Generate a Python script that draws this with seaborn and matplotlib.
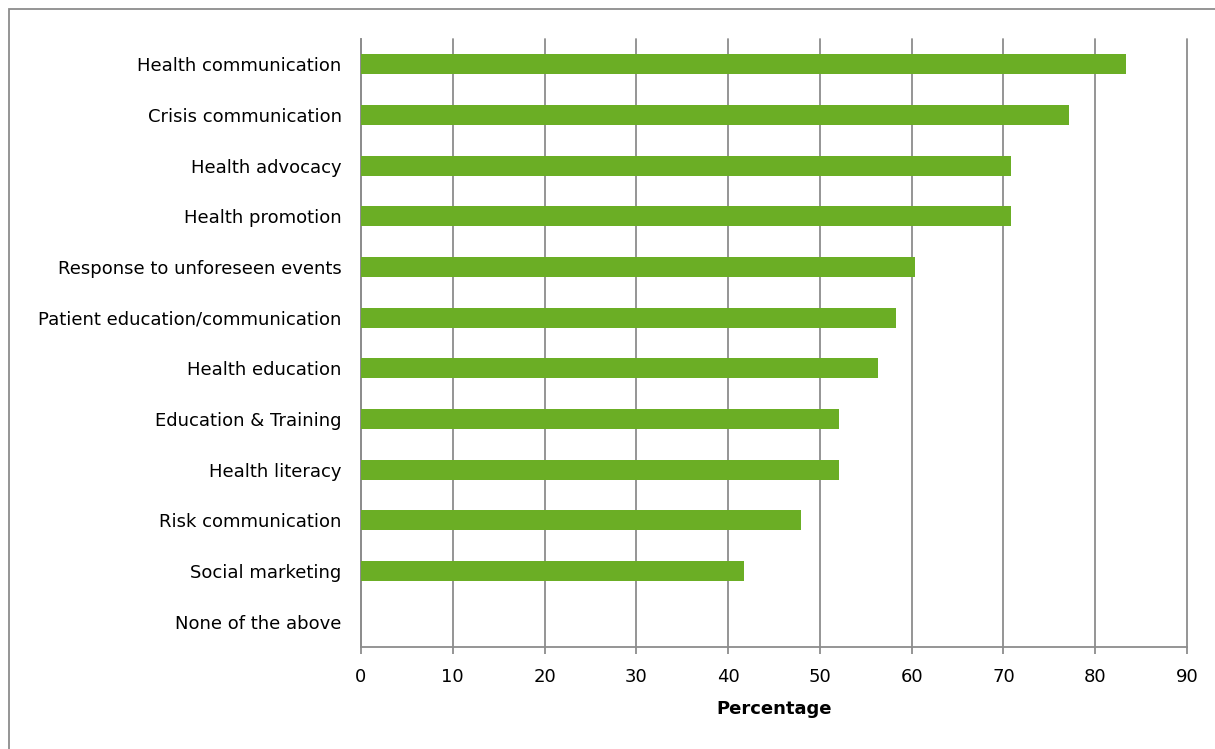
import matplotlib
matplotlib.use("Agg")
import matplotlib.pyplot as plt
import seaborn as sns
import pandas as pd
from matplotlib.patches import Rectangle

categories = [
    "Health communication",
    "Crisis communication",
    "Health advocacy",
    "Health promotion",
    "Response to unforeseen events",
    "Patient education/communication",
    "Health education",
    "Education & Training",
    "Health literacy",
    "Risk communication",
    "Social marketing",
    "None of the above",
]
percentages = [83.3, 77.1, 70.8, 70.8, 60.4, 58.3, 56.3, 52.1, 52.1, 47.9, 41.7, 0.0]
x_ticks = [0, 10, 20, 30, 40, 50, 60, 70, 80, 90]

sns.set_theme(style="white")
plt.rcParams["font.family"] = ["DejaVu Sans Condensed", "DejaVu Sans"]

df = pd.DataFrame({"Category": categories, "Percentage": percentages})

fig = plt.figure(figsize=(12.15, 7.49), dpi=100)
ax = fig.add_axes([361 / 1215, 1 - 647 / 749, (1187 - 361) / 1215, (647 - 39) / 749])

sns.barplot(data=df, x="Percentage", y="Category", order=categories,
            color="#6BAE25", saturation=1, width=0.39, linewidth=0,
            ax=ax, zorder=3)

grid_col = "#8C8C8C"
ax.set_xlim(0, 90)
ax.set_ylim(len(categories) - 0.5, -0.5)
ax.set_xticks(x_ticks)
ax.set_xticklabels([str(t) for t in x_ticks])
ax.xaxis.grid(True, color=grid_col, linewidth=1.3, zorder=0)
ax.yaxis.grid(False)
ax.set_axisbelow(True)
for gl in ax.get_xgridlines():
    gl.set_clip_on(False)

for side in ["top", "right"]:
    ax.spines[side].set_visible(False)
for side in ["left", "bottom"]:
    ax.spines[side].set_color(grid_col)
    ax.spines[side].set_linewidth(1.3)

ax.tick_params(axis="x", direction="out", length=5, width=1.3, color=grid_col,
               labelsize=13, pad=10, bottom=True)
ax.tick_params(axis="y", length=0, labelsize=13, pad=14)
for lbl in ax.get_xticklabels() + ax.get_yticklabels():
    lbl.set_color("black")

ax.set_ylabel("")
ax.set_xlabel("Percentage", fontsize=13, fontweight="bold", color="black", labelpad=10)

# outer chart frame
fig.patches.append(Rectangle((9 / 1215, -0.1), 1.2, 1 - 9 / 749 + 0.1,
                             transform=fig.transFigure, fill=False,
                             edgecolor="#8C8C8C", linewidth=1.3))

fig.savefig("out.png", dpi=100)
